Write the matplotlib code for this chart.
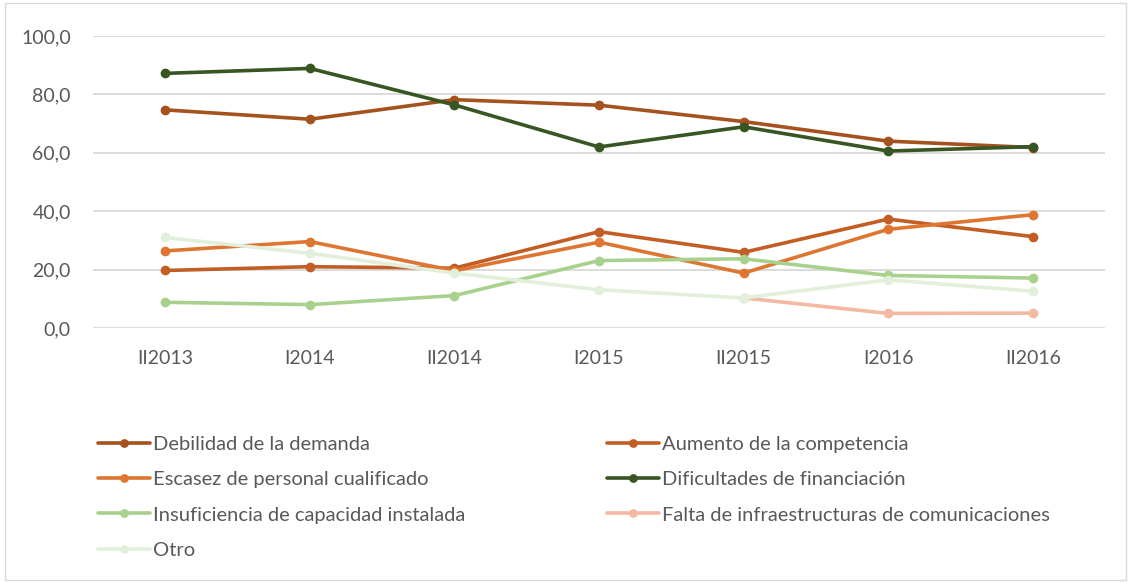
import numpy as np
import matplotlib
matplotlib.use("Agg")
import matplotlib.pyplot as plt
from matplotlib.patches import Rectangle

categories = ["II2013", "I2014", "II2014", "I2015", "II2015", "I2016", "II2016"]

debilidad = [74.7, 71.5, 78.2, 76.3, 70.7, 64.0, 61.8]
aumento = [19.7, 21.0, 20.5, 33.0, 25.9, 37.3, 31.3]
escasez = [26.4, 29.6, 19.6, 29.4, 18.8, 33.8, 38.8]
dificultades = [87.2, 88.9, 76.4, 62.0, 68.9, 60.6, 62.1]
insuficiencia = [8.8, 8.0, 11.1, 23.1, 23.7, 18.0, 17.1]
falta = [np.nan, np.nan, np.nan, np.nan, 10.3, 5.0, 5.1]
otro = [31.0, 25.6, 18.8, 13.1, 10.3, 16.5, 12.6]

series = [
    ("Debilidad de la demanda", debilidad, "#A5521F"),
    ("Aumento de la competencia", aumento, "#C25E24"),
    ("Escasez de personal cualificado", escasez, "#DE7632"),
    ("Dificultades de financiación", dificultades, "#375623"),
    ("Insuficiencia de capacidad instalada", insuficiencia, "#A9D18E"),
    ("Falta de infraestructuras de comunicaciones", falta, "#F4B9A2"),
    ("Otro", otro, "#E2EFDA"),
]

plt.rcParams['font.family'] = ['Lato', 'DejaVu Sans']

fig = plt.figure(figsize=(11.31, 5.83), dpi=100)
fig.patches.append(Rectangle((0.004, 0.006), 0.992, 0.988, transform=fig.transFigure,
                             fill=False, edgecolor="#D9D9D9", linewidth=1.0))
ax = fig.add_axes([93 / 1131, 1 - 328 / 583, (1105 - 93) / 1131, (328 - 36) / 583])

x = np.arange(len(categories))
handles = {}
for name, vals, color in series:
    h, = ax.plot(x, vals, color=color, linewidth=2.6, marker="o", markersize=7,
                 markeredgewidth=0, label=name, solid_capstyle="round")
    handles[name] = h

ax.set_xlim(-0.5, len(categories) - 0.5)
ax.set_ylim(0, 100)
ax.set_yticks(np.arange(0, 101, 20))
ax.set_yticklabels([f"{v:.1f}".replace(".", ",") for v in np.arange(0, 101, 20)])
ax.set_xticks(x)
ax.set_xticklabels(categories)
ax.yaxis.grid(True, color="#D9D9D9", linewidth=1.3)
ax.set_axisbelow(True)
for s in ax.spines.values():
    s.set_visible(False)
ax.tick_params(axis="both", length=0, labelsize=14, colors="#595959")
ax.tick_params(axis="y", pad=16)
ax.tick_params(axis="x", pad=16)

col1 = ["Debilidad de la demanda", "Escasez de personal cualificado",
        "Insuficiencia de capacidad instalada", "Otro"]
col2 = ["Aumento de la competencia", "Dificultades de financiación",
        "Falta de infraestructuras de comunicaciones"]
for names, xpos in ((col1, 98), (col2, 607)):
    leg = fig.legend([handles[n] for n in names], names, ncol=1,
                     loc="upper left", bbox_to_anchor=(xpos / 1131, 1 - 436 / 583),
                     frameon=False, fontsize=14.5, handlelength=2.6, handletextpad=0.12,
                     labelspacing=0.9, markerscale=0.9, borderpad=0, borderaxespad=0)
    for t in leg.get_texts():
        t.set_color("#595959")

fig.savefig("out.png", dpi=100)
